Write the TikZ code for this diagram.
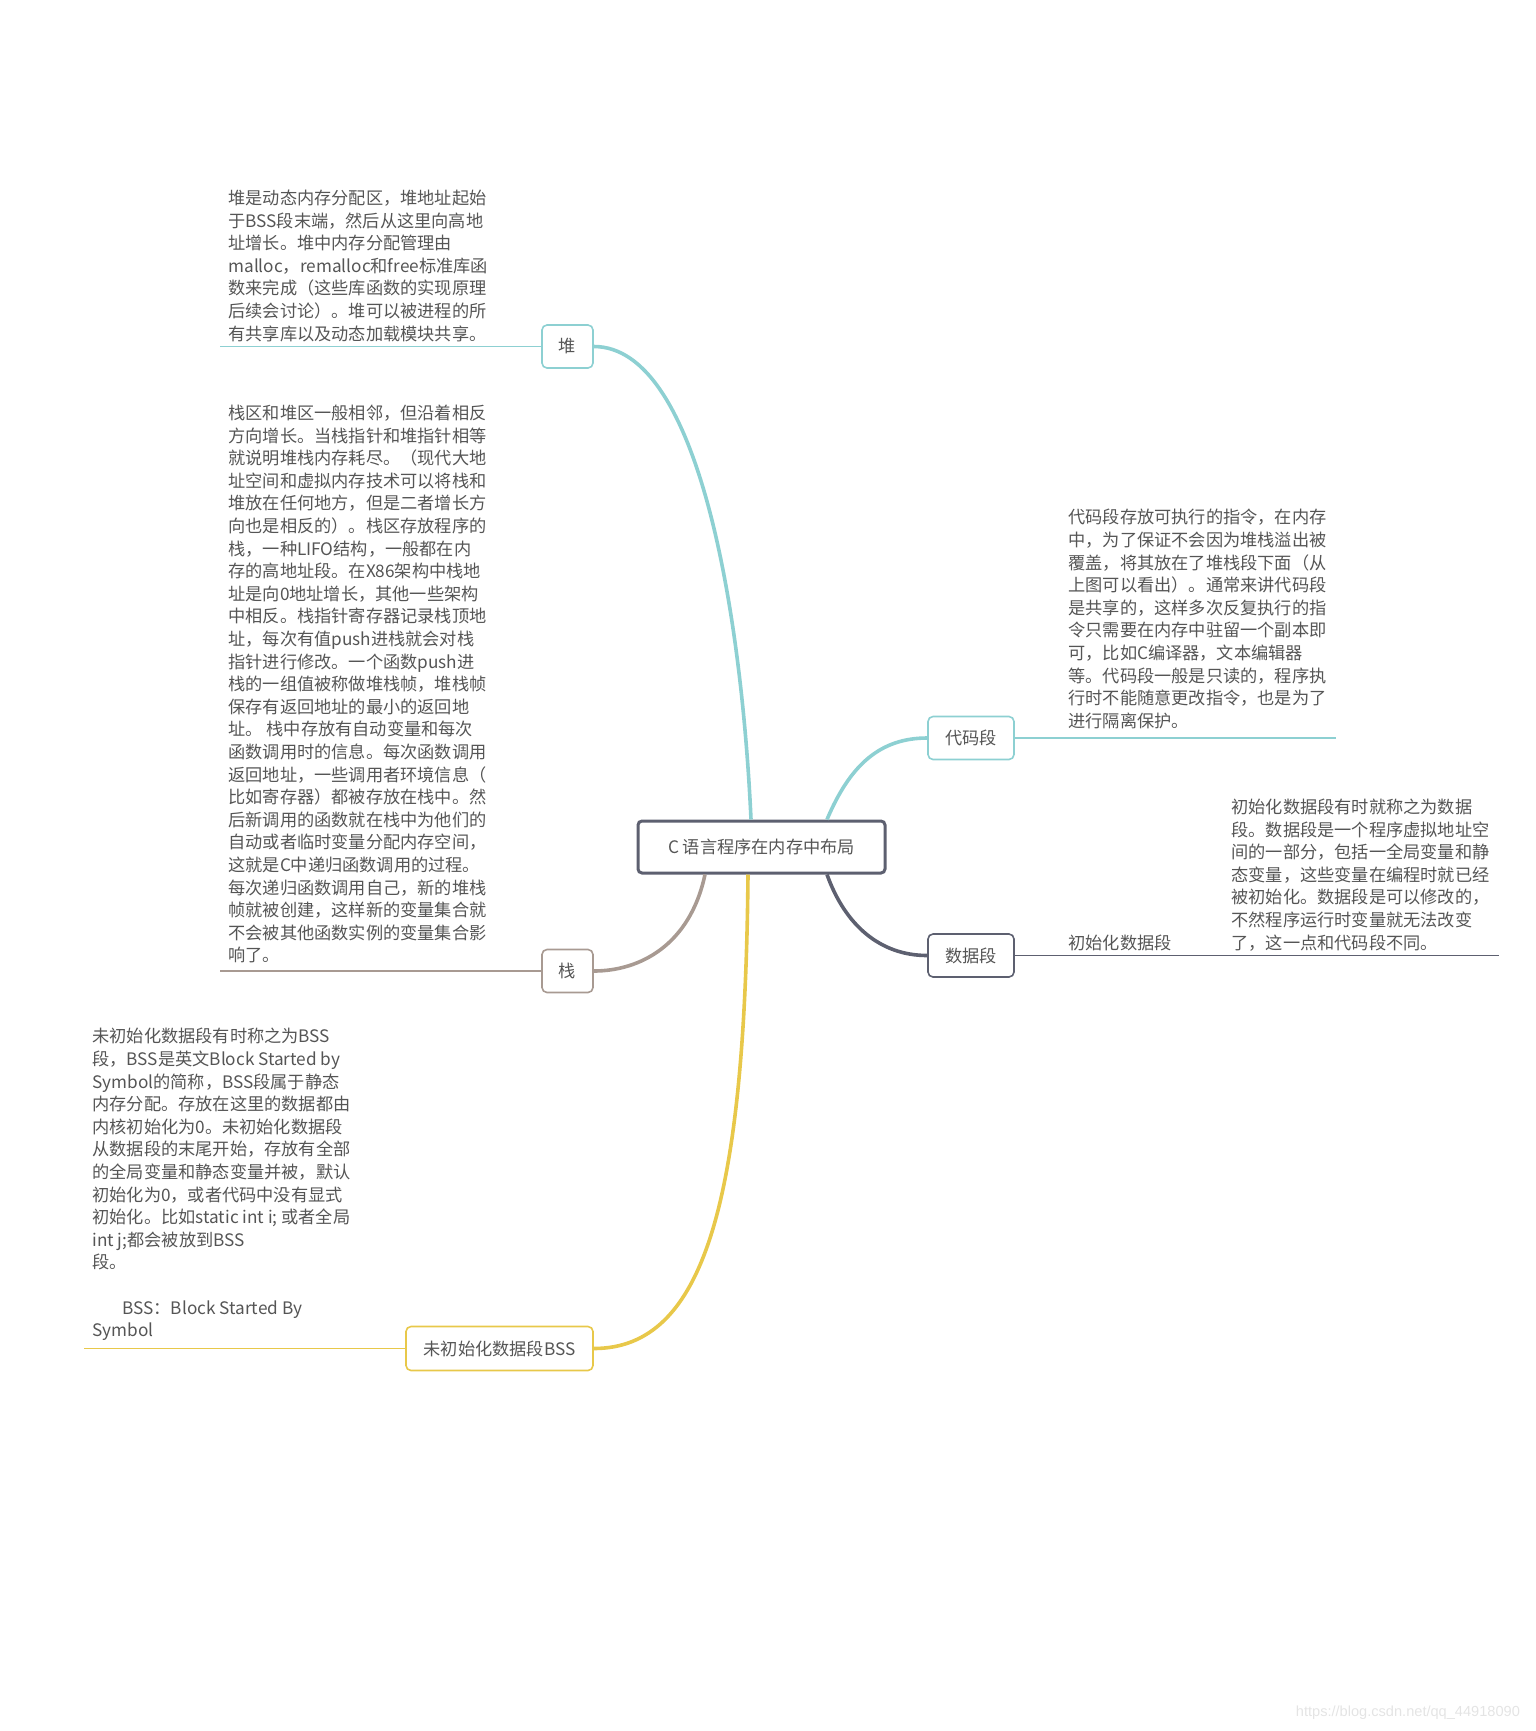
\documentclass[tikz,border=0pt]{standalone}
\usepackage{fontspec}
\setmainfont{Noto Sans CJK SC}
\newfontfamily\urlfont{Liberation Sans}
\usepackage{tikz}
\usetikzlibrary{positioning}
\definecolor{mmTeal}{RGB}{141,208,210}
\definecolor{mmBrown}{RGB}{168,154,146}
\definecolor{mmYellow}{RGB}{232,200,74}
\definecolor{mmSlate}{RGB}{93,96,112}
\definecolor{mmText}{RGB}{85,85,85}
\definecolor{mmMark}{RGB}{228,228,228}
\newcommand{\mmsize}{\fontsize{8.6pt}{11.3pt}\selectfont}
\tikzset{
  topic/.style={rectangle,draw=#1,fill=white,rounded corners=2.5pt,
    line width=0.8pt,minimum height=21.5pt,inner sep=3pt,
    text=mmText,font=\mmsize},
  rootbox/.style={topic=mmSlate,line width=1.5pt,rounded corners=2pt,
    minimum width=123.5pt,minimum height=26pt},
  notetext/.style={align=left,inner sep=0pt,anchor=north west,
    text=mmText,font=\mmsize},
  branch/.style={draw=#1,line width=1.8pt},
  leaf/.style={draw=#1,line width=0.75pt}
}

\begin{document}
\begin{tikzpicture}[x=0.5pt,y=-0.5pt]
  \useasboundingbox (0,0) rectangle (1536,1731);
  % central topic and main topics
  \node[rootbox] (root) at (761.5,847) {C 语言程序在内存中布局};
  \node[topic=mmTeal,minimum width=25.5pt] (heap) at (567.5,346.5) {堆};
  \node[topic=mmBrown,minimum width=25.5pt] (stack) at (567.5,971) {栈};
  \node[topic=mmYellow,minimum width=93.5pt,minimum height=22pt] (bss) at (499.5,1348.5) {未初始化数据段BSS};
  \node[topic=mmTeal,minimum width=43pt] (code) at (971,738) {代码段};
  \node[topic=mmSlate,minimum width=43pt] (data) at (971,955.5) {数据段};

  % branches
  \draw[branch=mmTeal] ([xshift=-5.25pt]root.north) .. controls (742,620) and (700,346.5) .. (heap.east);
  \draw[branch=mmBrown] ([xshift=-28.25pt]root.south) .. controls (690,945) and (640,971) .. (stack.east);
  \draw[branch=mmYellow] ([xshift=-6.75pt]root.south) .. controls (745,1200) and (705,1348.5) .. (bss.east);
  \draw[branch=mmTeal] ([xshift=32.75pt]root.north) .. controls (850,765) and (880,738) .. (code.west);
  \draw[branch=mmSlate] ([xshift=32.75pt]root.south) .. controls (845,925) and (880,955.5) .. (data.west);

  % notes
  \node[notetext] (heapnote) at (228,189.5)
    {堆是动态内存分配区，堆地址起始\\于BSS段末端，然后从这里向高地\\址增长。堆中内存分配管理由\\malloc，remalloc和free标准库函\\数来完成（这些库函数的实现原理\\后续会讨论）。堆可以被进程的所\\有共享库以及动态加载模块共享。};
  \node[notetext] (stacknote) at (228,404.5)
    {栈区和堆区一般相邻，但沿着相反\\方向增长。当栈指针和堆指针相等\\就说明堆栈内存耗尽。（现代大地\\址空间和虚拟内存技术可以将栈和\\堆放在任何地方，但是二者增长方\\向也是相反的）。栈区存放程序的\\栈，一种LIFO结构，一般都在内\\存的高地址段。在X86架构中栈地\\址是向0地址增长，其他一些架构\\中相反。栈指针寄存器记录栈顶地\\址，每次有值push进栈就会对栈\\指针进行修改。一个函数push进\\栈的一组值被称做堆栈帧，堆栈帧\\保存有返回地址的最小的返回地\\址。 栈中存放有自动变量和每次\\函数调用时的信息。每次函数调用\\返回地址，一些调用者环境信息（\\比如寄存器）都被存放在栈中。然\\后新调用的函数就在栈中为他们的\\自动或者临时变量分配内存空间，\\这就是C中递归函数调用的过程。\\每次递归函数调用自己，新的堆栈\\帧就被创建，这样新的变量集合就\\不会被其他函数实例的变量集合影\\响了。};
  \node[notetext] (bssnote) at (92,1028)
    {未初始化数据段有时称之为BSS\\段，BSS是英文Block Started by\\Symbol的简称，BSS段属于静态\\内存分配。存放在这里的数据都由\\内核初始化为0。未初始化数据段\\从数据段的末尾开始，存放有全部\\的全局变量和静态变量并被，默认\\初始化为0，或者代码中没有显式\\初始化。比如static int i; 或者全局\\int j;都会被放到BSS\\段。\\~\\\hspace*{1.75em}BSS：Block Started By\\Symbol};
  \node[notetext] (codenote) at (1068,509)
    {代码段存放可执行的指令，在内存\\中，为了保证不会因为堆栈溢出被\\覆盖，将其放在了堆栈段下面（从\\上图可以看出）。通常来讲代码段\\是共享的，这样多次反复执行的指\\令只需要在内存中驻留一个副本即\\可，比如C编译器，文本编辑器\\等。代码段一般是只读的，程序执\\行时不能随意更改指令，也是为了\\进行隔离保护。};
  \node[notetext] (initlabel) at (1068,934.5) {初始化数据段};
  \node[notetext] (initnote) at (1231,798.5)
    {初始化数据段有时就称之为数据\\段。数据段是一个程序虚拟地址空\\间的一部分，包括一全局变量和静\\态变量，这些变量在编程时就已经\\被初始化。数据段是可以修改的，\\不然程序运行时变量就无法改变\\了，这一点和代码段不同。};

  % underlines of the notes
  \coordinate (heapend) at (220,346.5);
  \coordinate (stackend) at (220,971);
  \coordinate (bssend) at (84,1348.5);
  \coordinate (codeend) at (1336,738);
  \coordinate (initmark) at (1200,955.5);
  \coordinate (dataend) at (1499,955.5);
  \draw[leaf=mmTeal] (heap.west) -- (heapend);
  \draw[leaf=mmBrown] (stack.west) -- (stackend);
  \draw[leaf=mmYellow] (bss.west) -- (bssend);
  \draw[leaf=mmTeal] (code.east) -- (codeend);
  \draw[leaf=mmSlate] (data.east) -- (initmark) -- (dataend);

  \node[text=mmMark,font=\urlfont\fontsize{7.3pt}{9pt}\selectfont,anchor=east] (mark)
    at (1527,1713) {https://blog.csdn.net/qq\_44918090};
\end{tikzpicture}
\end{document}
